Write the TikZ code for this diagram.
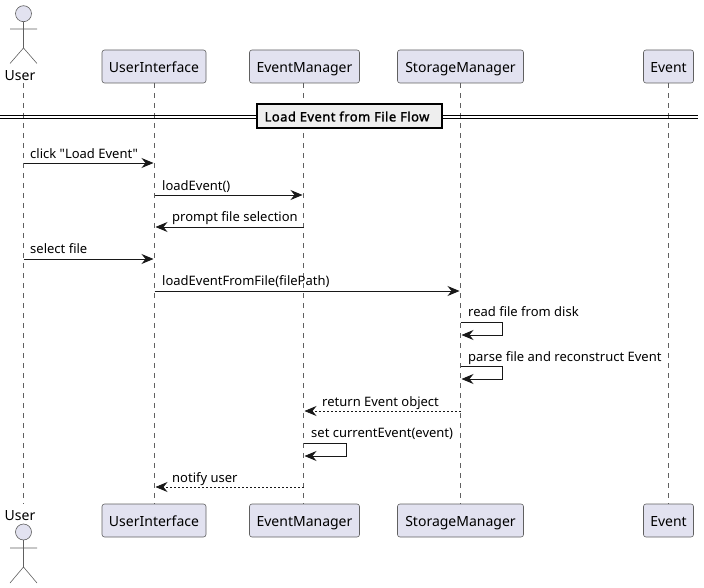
\documentclass[tikz,border=0pt]{standalone}
\usepackage{fontspec}
\setmainfont{Noto Sans}
\newfontfamily\plainnoto{Noto Sans}
\newfontfamily\boldnoto{Noto Sans}[FakeBold=1.6,LetterSpace=3.5]
\usetikzlibrary{arrows.meta,calc}
\definecolor{pfill}{HTML}{E2E2F0}
\definecolor{pline}{HTML}{181818}
\definecolor{thinline}{HTML}{606060}
\definecolor{dfill}{HTML}{EEEEEE}
\tikzset{
  x=1pt,y=-1pt,
  partbox/.style={draw=thinline,fill=pfill,line width=0.6pt,rounded corners=2.5pt,minimum height=33pt,inner sep=0pt,text height=12pt,text depth=0pt,font=\fontsize{14}{16}\selectfont,text=black},
  lifeline/.style={draw=thinline,line width=0.5pt,dash pattern=on 5pt off 5pt},
  msg/.style={draw=pline,line width=0.9pt,shorten >=1pt,-{Stealth[length=12pt,width=10pt,inset=4pt,fill=pline]}},
  reply/.style={msg,line width=0.75pt,dash pattern=on 2pt off 2pt},
  lab/.style={anchor=base west,inner sep=0pt,font=\plainnoto\fontsize{13}{15}\selectfont,text=black},
  actorlab/.style={inner sep=0pt,font=\fontsize{14}{16}\selectfont,text=black},
  actorhead/.style={draw=thinline,line width=0.6pt,fill=pfill},
  actorbody/.style={draw=thinline,line width=0.6pt},
  divline/.style={draw=black,line width=1pt},
  divbox/.style={draw=black,fill=dfill,line width=2pt,inner sep=0pt,minimum height=24pt,font=\boldnoto\fontsize{13}{15}\selectfont},
}
\begin{document}
\begin{tikzpicture}
\useasboundingbox (0,0) rectangle (704,588);
% participants
\node[partbox,minimum width=104pt] (ui)  at (154,66.5) {UserInterface};
\node[partbox,minimum width=110pt] (em)  at (304.5,66.5) {EventManager};
\node[partbox,minimum width=126pt] (sm)  at (460.5,66.5) {StorageManager};
\node[partbox,minimum width=50pt]  (ev)  at (668.5,66.5) {Event};
\node[partbox,minimum width=104pt] (uib) at (154,520.5) {UserInterface};
\node[partbox,minimum width=110pt] (emb) at (304.5,520.5) {EventManager};
\node[partbox,minimum width=126pt] (smb) at (460.5,520.5) {StorageManager};
\node[partbox,minimum width=50pt]  (evb) at (668.5,520.5) {Event};
\node[actorlab] (user)  at (20,75.5) {User};
\node[actorlab] (userb) at (20,515.5) {User};
\coordinate (ut) at (23.5,83);
\coordinate (ub) at (23.5,504);
\coordinate (uix) at (154.5,0);
\coordinate (emx) at (303.5,0);
\coordinate (smx) at (460.5,0);
\coordinate (evx) at (668.5,0);
% lifelines
\draw[lifeline] (ut) -- (ub);
\draw[lifeline] (uix |- ui.south) -- (uix |- uib.north);
\draw[lifeline] (emx |- em.south) -- (emx |- emb.north);
\draw[lifeline] (smx |- sm.south) -- (smx |- smb.north);
\draw[lifeline] (evx |- ev.south) -- (evx |- evb.north);
% actors
\draw[actorhead] (23.5,13.7) circle (8);
\draw[actorbody] (23.5,21.7) -- (23.5,48) (10,29) -- (37,29) (10,63.5) -- (23.5,48) -- (37,63.5);
\draw[actorhead] (23.5,532) circle (8);
\draw[actorbody] (23.5,540) -- (23.5,567) (10,548) -- (37,548) (10,583) -- (23.5,567) -- (37,583);
% divider
\node[divbox,minimum width=185pt] (div) at (349.5,116.5) {Load Event from File Flow\hspace*{5pt}};
\draw[divline] (0,115.2) -- (div.west |- 0,115.2) (0,118.2) -- (div.west |- 0,118.2);
\draw[divline] (div.east |- 0,115.2) -- (698,115.2) (div.east |- 0,118.2) -- (698,118.2);
% messages
\draw[msg] (ut |- 0,163) -- (uix |- 0,163);
\node[lab] (t1) at (30,158.5) {click "Load Event"};
\draw[msg] (uix |- 0,195) -- (emx |- 0,195);
\node[lab] (t2) at (162,190.5) {loadEvent()};
\draw[msg] (emx |- 0,227) -- (uix |- 0,227);
\node[lab] (t3) at (172,221.5) {prompt file selection};
\draw[msg] (ut |- 0,259) -- (uix |- 0,259);
\node[lab] (t4) at (30,253) {select file};
\draw[msg] (uix |- 0,291) -- (smx |- 0,291);
\node[lab] (t5) at (162,285) {loadEventFromFile(filePath)};
\draw[msg] (smx |- 0,322) -- ++(42,0) -- ++(0,13) -- (smx |- 0,335);
\node[lab] (t6) at (468,316) {read file from disk};
\draw[msg] (smx |- 0,366) -- ++(42,0) -- ++(0,13) -- (smx |- 0,379);
\node[lab] (t7) at (468,361) {parse file and reconstruct Event};
\draw[reply] (smx |- 0,411) -- (emx |- 0,411);
\node[lab] (t8) at (322,406) {return Event object};
\draw[msg] (emx |- 0,443) -- ++(43,0) -- ++(0,13) -- (emx |- 0,456);
\node[lab] (t9) at (311,437) {set currentEvent(event)};
\draw[reply] (emx |- 0,487) -- (uix |- 0,487);
\node[lab] (t10) at (172,482) {notify user};
\end{tikzpicture}
\end{document}
